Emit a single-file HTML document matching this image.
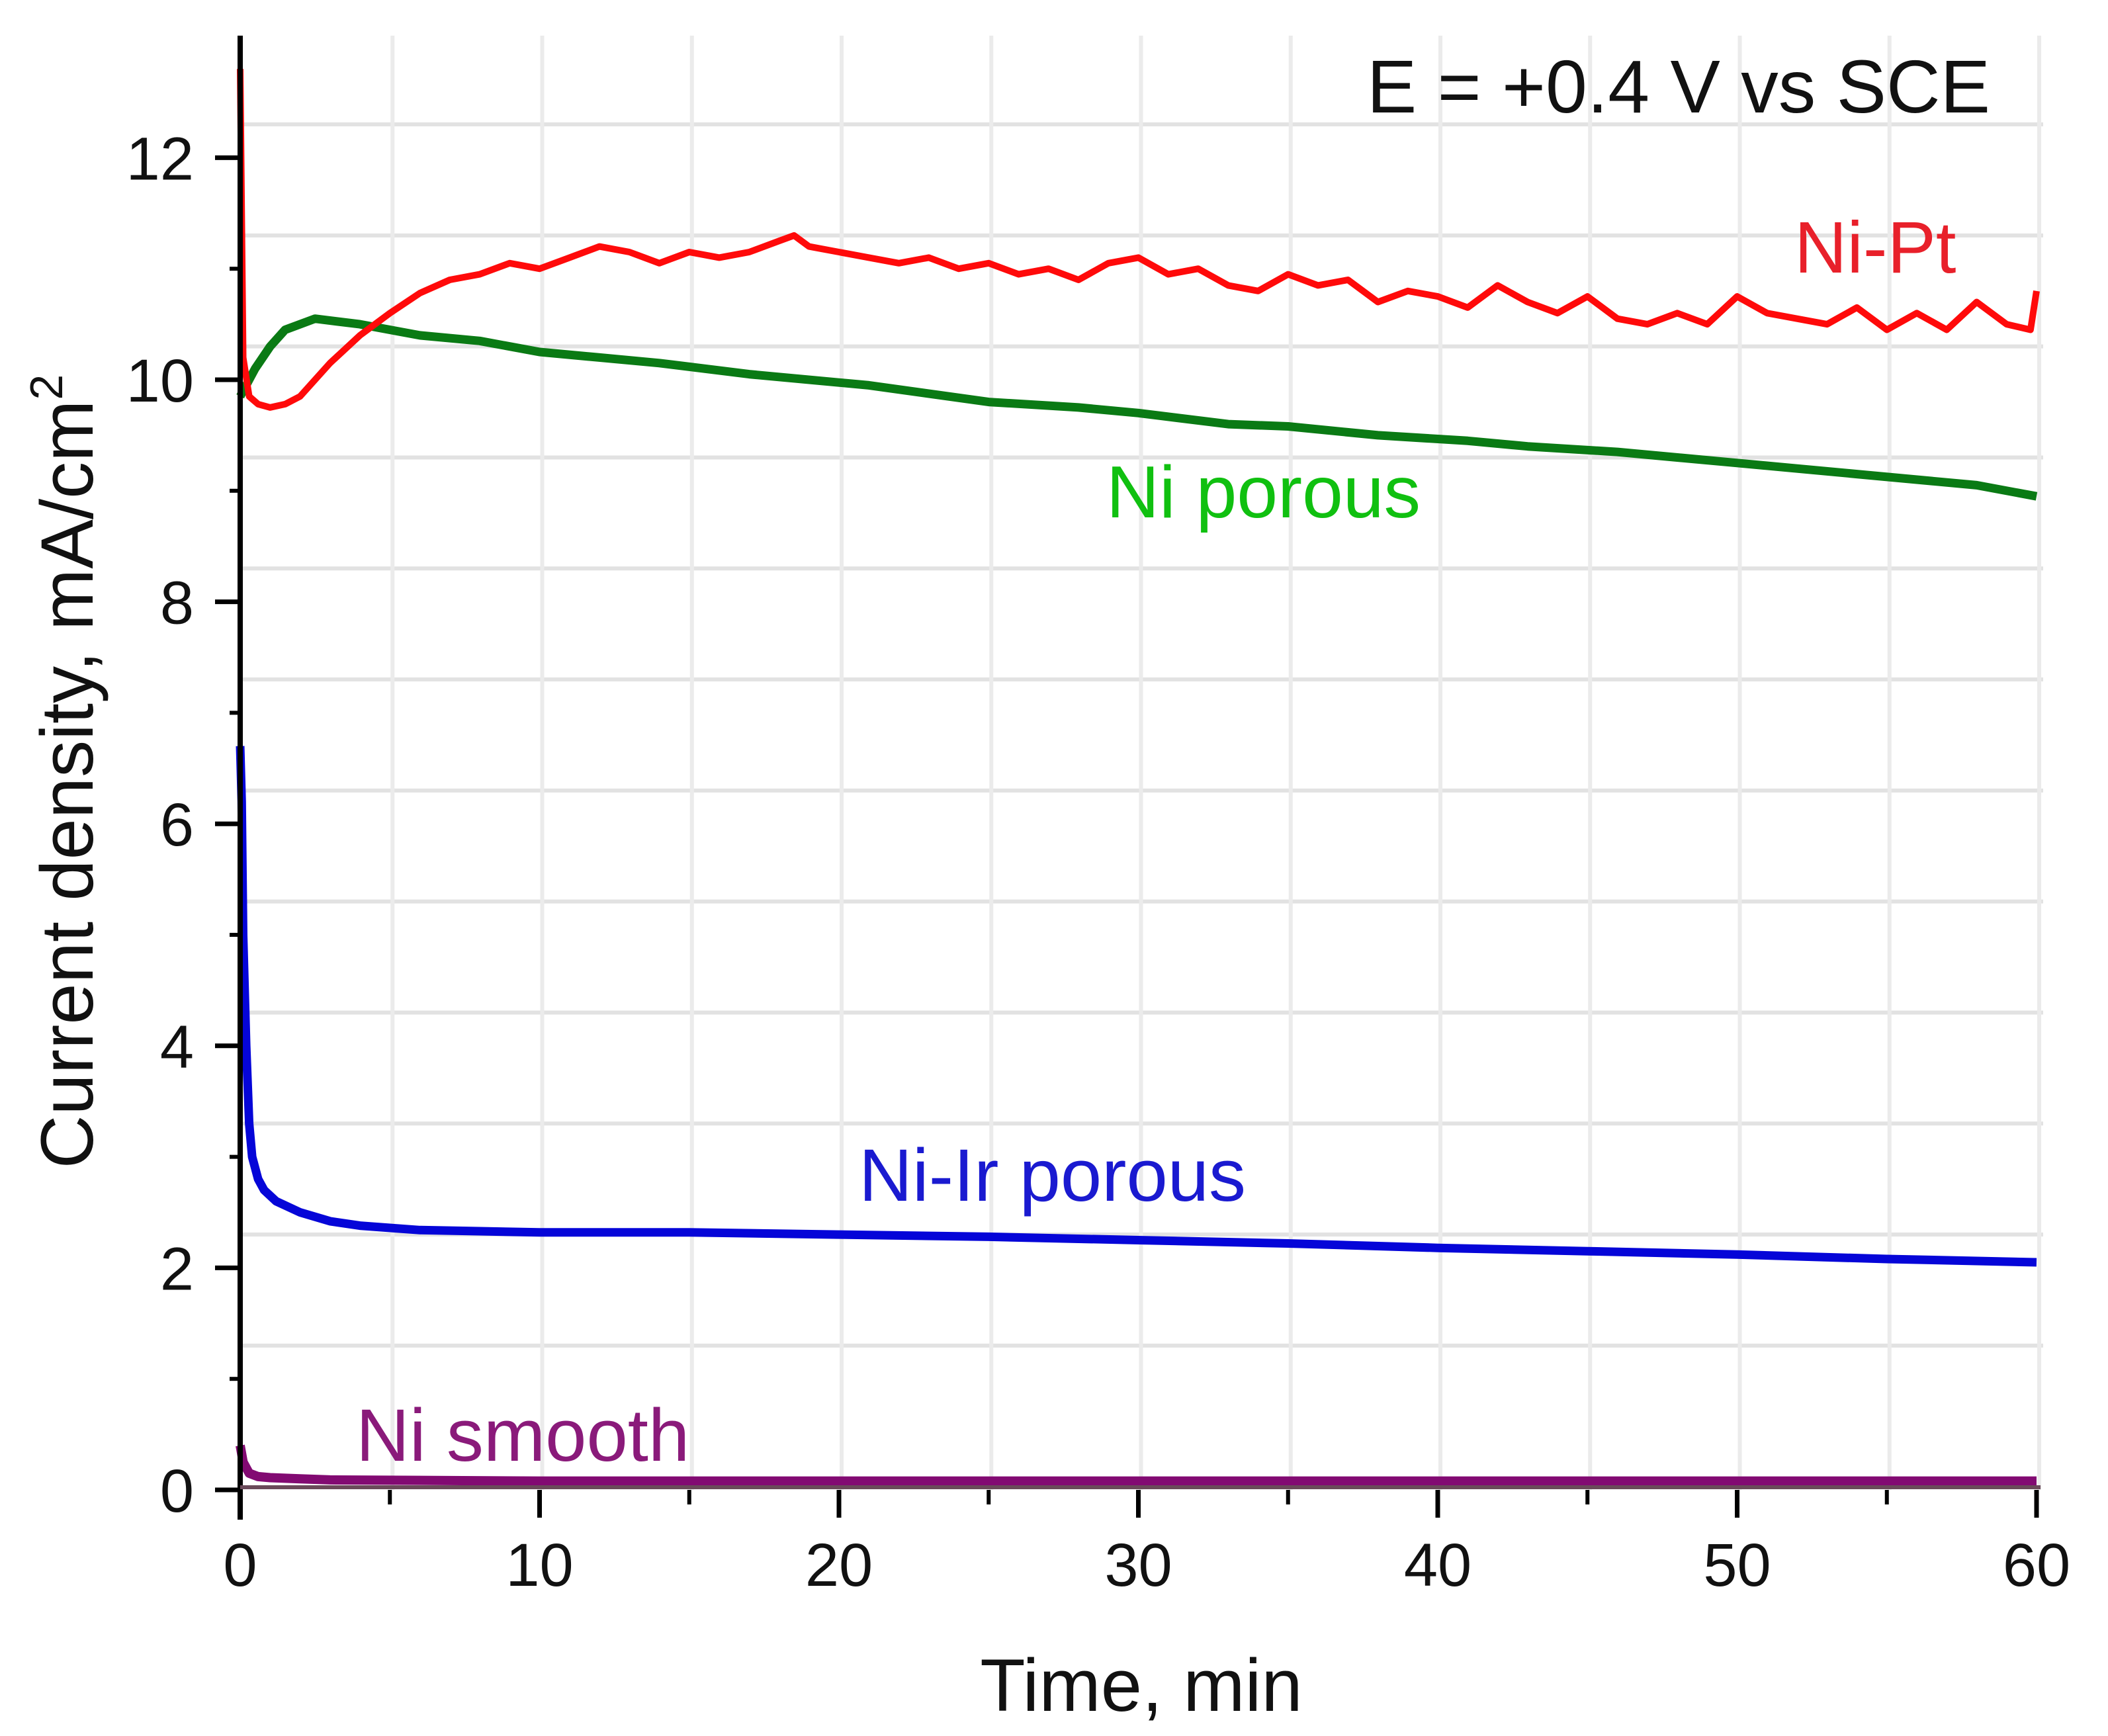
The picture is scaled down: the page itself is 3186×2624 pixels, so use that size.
<!DOCTYPE html>
<html><head><meta charset="utf-8"><style>
html,body{margin:0;padding:0;background:#fff;}
svg{display:block;font-family:"Liberation Sans",Arial,sans-serif;}
</style></head><body>
<svg id="chart" width="3186" height="2624" viewBox="0 0 3186 2624" xmlns="http://www.w3.org/2000/svg">
<g id="grid"></g>
<g id="series"></g>
<g id="axes"></g>
<text x="3008" y="170" font-size="113" text-anchor="end" fill="#111">E = +0.4 V vs SCE</text>
<text x="2712" y="412" font-size="110" fill="#e8202a">Ni-Pt</text>
<text x="1672" y="782" font-size="111" fill="#10c010">Ni porous</text>
<text x="1298" y="1815" font-size="112" fill="#1a1ad0">Ni-Ir porous</text>
<text x="538" y="2208" font-size="112" fill="#8a1a7a">Ni smooth</text>
<text x="1725" y="2586" font-size="112" text-anchor="middle" fill="#111">Time, min</text>
<text transform="translate(140,1166) rotate(-90)" font-size="112" text-anchor="middle" fill="#111">Current density, mA/cm<tspan font-size="70" dy="-46">2</tspan></text>
</svg>
<script>
const xTicks = [0,10,20,30,40,50,60];
const xMinor = [5,15,25,35,45,55];
const yTicks = [0,2,4,6,8,10,12];
const yMinor = [1,3,5,7,9,11];
const gridY = [1.3,2.3,3.3,4.3,5.3,6.3,7.3,8.3,9.3,10.3,11.3,12.3];
const gridX = [5,10,15,20,25,30,35,40,45,50,55,60];

const tPt = [0,0.1,0.3,0.6,1,1.5,2,3,4,5,6,7,8,9,10,11,12,13,14,15,16,17,18,18.5,19,20,21,22,23,24,25,26,27,28,29,30,31,32,33,34,35,36,37,38,39,40,41,42,43,44,45,46,47,48,49,50,51,52,53,54,55,56,57,58,59,59.8,60];
const jPt = [12.8,10.2,9.85,9.78,9.75,9.78,9.85,10.15,10.4,10.6,10.78,10.9,10.95,11.05,11.0,11.1,11.2,11.15,11.05,11.15,11.1,11.15,11.25,11.3,11.2,11.15,11.1,11.05,11.1,11.0,11.05,10.95,11.0,10.9,11.05,11.1,10.95,11.0,10.85,10.8,10.95,10.85,10.9,10.7,10.8,10.75,10.65,10.85,10.7,10.6,10.75,10.55,10.5,10.6,10.5,10.75,10.6,10.55,10.5,10.65,10.45,10.6,10.45,10.7,10.5,10.45,10.8];
const tNiPor = [0,0.5,1,1.5,2.5,4,6,8,10,12,14,17,21,25,28,30,33,35,38,41,43,46,48,50,52,54,56,58,60];
const jNiPor = [9.85,10.1,10.3,10.45,10.55,10.5,10.4,10.35,10.25,10.2,10.15,10.05,9.95,9.8,9.75,9.7,9.6,9.58,9.5,9.45,9.4,9.35,9.3,9.25,9.2,9.15,9.1,9.05,8.95];
const tIr = [0,0.05,0.1,0.2,0.3,0.4,0.6,0.8,1.2,2,3,4,6,8,10,15,20,25,30,35,40,45,50,55,60];
const jIr = [6.7,6.2,5,4,3.3,3.0,2.8,2.7,2.6,2.5,2.42,2.38,2.34,2.33,2.32,2.32,2.3,2.28,2.25,2.22,2.18,2.15,2.12,2.08,2.05];
const tSm = [0,0.1,0.3,0.6,1,2,3,10,20,30,40,50,60];
const jSm = [0.4,0.25,0.15,0.12,0.11,0.1,0.09,0.08,0.08,0.08,0.08,0.08,0.08];

const NS='http://www.w3.org/2000/svg';
const X0=363, X1=3078, Y0=2252, YU=167.8;
const xs = t => X0 + (X1-X0)*t/60;
const ys = v => Y0 - v*YU;
function mk(tag, attrs, parent){const e=document.createElementNS(NS,tag);for(const k in attrs)e.setAttribute(k,attrs[k]);parent.appendChild(e);return e;}
const grid=document.getElementById('grid'), axes=document.getElementById('axes'), ser=document.getElementById('series');

gridY.forEach(v=>{const l=mk('line',{x1:X0,x2:X1+10,y1:ys(v),y2:ys(v),stroke:'#e2e2e2','stroke-width':6},grid);

});
gridX.forEach(v=>{const l=mk('line',{x1:xs(v)+4,x2:xs(v)+4,y1:ys(13.1),y2:Y0,stroke:'#ebebeb','stroke-width':6},grid);

});

function series(ts, js, color, name, w){
  const d = ts.map((t,i)=>(i?'L':'M')+xs(t).toFixed(1)+' '+ys(js[i]).toFixed(1)).join(' ');
  const p = mk('path',{d:d,fill:'none',stroke:color,'stroke-width':w,'stroke-linejoin':'round'},ser);
  
  
}
series(tSm,jSm,'#820a72','line-ni-smooth',14);
series(tIr,jIr,'#0505d8','line-ni-ir-porous',13);
series(tNiPor,jNiPor,'#0a7a14','line-ni-porous',13);
series(tPt,jPt,'#ff0a0a','line-ni-pt',10);

const ya=mk('line',{x1:X0,x2:X0,y1:ys(13.1),y2:Y0+45,stroke:'#000','stroke-width':8},axes);


const xa=mk('line',{x1:X0,x2:X1+6,y1:Y0-4,y2:Y0-4,stroke:'#6a4a5a','stroke-width':6},axes);



yTicks.forEach(v=>{
  const l=mk('line',{x1:X0-38,x2:X0,y1:ys(v),y2:ys(v),stroke:'#000','stroke-width':7},axes);
  
  
  const tx=mk('text',{x:X0-70,y:ys(v)+33,'font-size':92,'text-anchor':'end',fill:'#111'},axes);
  tx.textContent=v;
  
  
});
yMinor.forEach(v=>{
  const l=mk('line',{x1:X0-16,x2:X0,y1:ys(v),y2:ys(v),stroke:'#000','stroke-width':6},axes);
  
  
});
xTicks.forEach(v=>{
  const l=mk('line',{x1:xs(v),x2:xs(v),y1:Y0,y2:Y0+42,stroke:'#000','stroke-width':7},axes);
  
  
  const tx=mk('text',{x:xs(v),y:Y0+145,'font-size':92,'text-anchor':'middle',fill:'#111'},axes);
  tx.textContent=v;
  
  
});
xMinor.forEach(v=>{
  const l=mk('line',{x1:xs(v),x2:xs(v),y1:Y0,y2:Y0+22,stroke:'#000','stroke-width':6},axes);
  
  
});
</script>
</body></html>
